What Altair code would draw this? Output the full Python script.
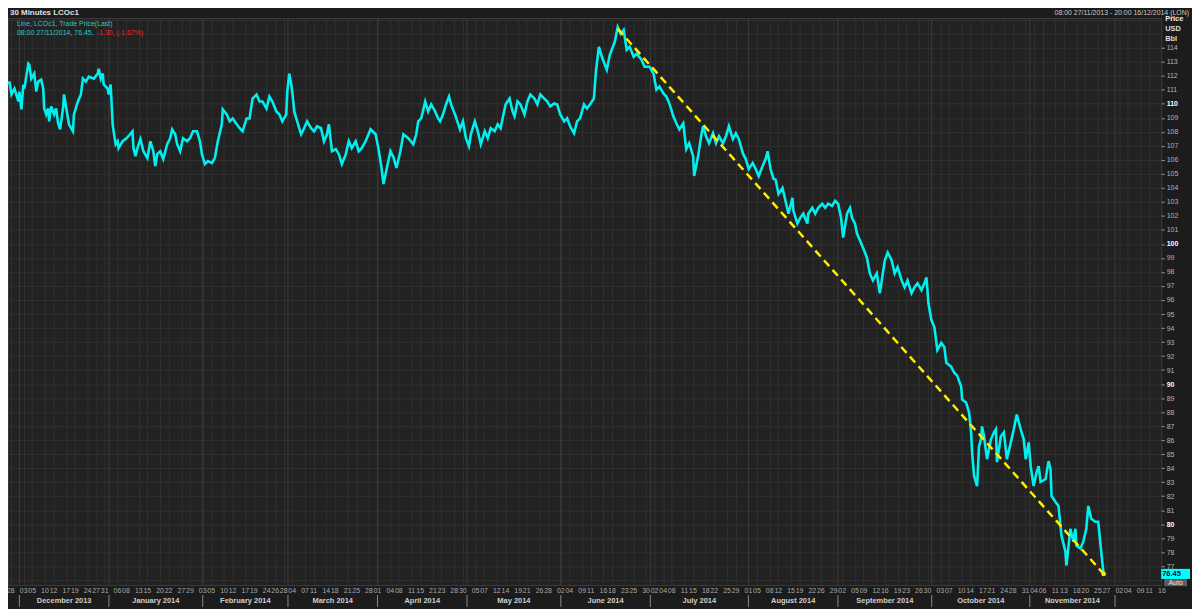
import altair as alt
import numpy as np
import pandas as pd

# ---------------- data (Brent LCOc1, 30-minute trade price) ----------------
# x = trading days elapsed since 27/11/2013 00:00 (London, ICE calendar), y = USD/bbl
nov_dec_2013 = [(0.44,111.38),(0.67,111.59),(1.14,110.67),(1.84,111.09),(2.77,110.17),
  (3.00,110.88),(3.47,109.60),(3.93,111.38),(4.17,111.09),(5.10,112.87),(5.33,112.79),(5.79,111.80),
  (6.49,112.16),(6.96,110.88),(7.42,111.59),(8.12,111.73),(8.59,111.09),(8.82,109.67),(9.29,109.25),
  (9.75,109.67),(9.98,108.75),(10.45,109.82),(11.15,109.25),(11.61,109.67),(12.08,108.61),(12.54,108.18),
  (13.24,109.67),(13.47,110.67),(14.40,108.96),(14.64,108.54),(15.57,108.04),(15.80,109.25),(16.73,110.17),
  (17.43,110.67),(17.90,111.80),(18.59,111.59),(19.29,111.94),(20.46,111.80),(21.39,112.16),(21.62,112.51),
  (22.09,111.80),(22.55,112.16),(22.78,111.38),(23.71,111.09)]
jan_2014 = [(23.95,110.67),(24.41,111.38),(24.88,108.54),(25.11,108.04),(25.58,107.12),(26.04,107.33),(26.27,106.84),
  (27.20,107.33),(27.90,107.48),(28.60,107.69),(29.53,108.04),(29.76,106.84),(30.23,106.27),(30.70,106.84),
  (31.39,107.48),(32.09,106.62),(33.02,106.13),(33.72,107.33),(34.42,106.62),(34.88,105.56),(35.35,106.41),
  (36.05,106.62),(36.75,106.06),(37.68,107.12),(38.38,107.55),(38.84,108.18),(39.54,107.83),(40.01,107.12),
  (40.71,106.62),(41.40,107.55),(42.33,107.33),(43.03,107.55),(43.73,108.04),(44.66,108.04),(45.36,107.33)]
feb_2014 = [(45.82,106.41),(46.52,105.70),(47.22,105.91),(48.15,105.77),(48.85,106.13),(49.55,107.33),(50.48,108.54),
  (50.71,109.60),(51.64,109.25),(52.34,108.75),(53.04,108.96),(53.97,108.54),(54.67,108.26),(55.36,108.04),
  (56.29,108.96),(56.99,108.96),(57.69,110.38),(58.62,110.67),(59.32,110.17),(60.02,110.17),(60.95,109.67),
  (61.65,110.52),(62.35,110.17),(63.28,109.46),(63.98,109.25),(64.67,108.75)]
mar_2014 = [(65.60,109.25),(65.84,110.88),(66.30,112.16),(66.77,111.38),(67.00,110.88),(67.47,109.46),(68.16,108.75),
  (69.09,107.83),(69.79,108.26),(70.49,108.75),(71.42,108.26),(72.12,108.04),(72.82,108.40),(73.75,108.26),
  (74.45,107.33),(75.15,107.83),(75.61,108.54),(76.31,106.62),(77.24,106.77),(77.94,106.41),(78.64,105.70),
  (79.57,106.41),(80.27,107.33),(80.96,106.84),(81.89,107.33),(82.59,106.62),(83.29,106.84),(84.22,107.33),
  (85.38,108.18),(86.55,107.83)]
apr_2014 = [(87.25,106.77),(87.94,105.42),(88.41,104.28),(89.11,105.30),(90.04,106.62),(90.74,106.20),(91.44,105.42),
  (92.37,106.62),(93.07,107.83),(94.23,107.55),(95.39,107.12),(96.09,107.83),(96.56,108.75),(97.26,108.96),
  (98.19,110.17),(98.89,109.46),(99.59,109.96),(100.52,109.46),(101.22,108.96),(101.68,108.75),(102.38,109.25),
  (103.08,109.96),(103.78,110.52),(104.25,109.96),(105.18,109.25),(105.88,108.61),(106.34,108.18),(107.04,108.75)]
may_2014 = [(107.74,107.55),(108.44,106.98),(108.90,107.83),(109.83,108.75),(110.53,108.04),(111.23,107.12),
  (112.16,108.04),(112.86,107.55),(113.56,108.26),(114.49,108.04),(115.19,108.54),(115.88,108.26),(116.35,108.96),
  (117.05,109.96),(117.98,110.38),(118.68,109.46),(119.15,109.11),(119.84,110.17),(120.54,109.96),(121.47,109.25),
  (122.17,110.17),(122.87,110.67),(123.80,110.38),(124.50,109.96),(125.20,110.67),(126.13,110.38),(126.83,110.17),
  (127.52,109.82),(128.45,110.03),(129.15,109.96)]
jun_2014 = [(129.85,109.25),(130.78,108.75),(131.48,108.96),(132.18,108.40),(133.11,107.90),(133.81,108.75),
  (134.51,108.96),(135.44,109.96),(136.14,109.67),(136.83,109.96),(137.76,110.38),(138.23,112.30),(138.93,114.07),
  (139.63,113.36),(140.33,112.79),(140.79,112.44),(141.49,113.50),(141.96,113.86),(142.66,114.43),(143.35,115.49),
  (144.05,115.00),(144.75,115.28),(145.45,113.86),(146.15,114.07),(147.08,113.36),(147.78,113.57),(148.94,113.15),
  (149.64,112.65)]
jul_2014 = [(150.80,112.65),(151.74,112.16),(152.43,111.02),(153.13,111.23),(154.06,110.74),(154.76,110.52),
  (155.46,110.03),(156.39,109.11),(157.09,108.61),(157.79,108.18),(158.72,108.61),(159.42,106.77),(160.11,107.19),
  (161.04,106.27),(161.28,104.85),(162.21,106.27),(162.91,107.69),(163.38,108.40),(164.07,107.69),(164.77,107.19),
  (165.70,107.90),(166.40,107.19),(167.10,107.69),(168.03,107.19),(168.73,107.69),(169.43,108.40),(170.36,107.48),
  (171.06,107.90),(171.76,107.48),(172.69,106.48)]
aug_2014 = [(173.38,106.06),(174.08,105.35),(175.01,105.77),(175.71,105.35),(176.41,104.85),(177.34,105.56),
  (178.04,106.06),(178.51,106.62),(179.20,105.35),(179.90,104.64),(180.37,104.60),(181.07,103.57),(182.00,104.00),
  (182.70,103.08),(183.40,102.16),(184.33,103.29),(184.56,102.37),(185.49,101.45),(186.19,101.87),(186.89,102.16),
  (187.82,101.45),(188.05,102.16),(188.98,102.58),(189.68,102.16),(190.38,102.58),(191.31,102.87),(192.01,102.58),
  (192.71,102.87),(193.64,102.72)]
sep_2014 = [(194.34,103.08),(195.04,102.87),(195.74,101.87),(196.21,100.45),(197.14,102.16),(197.84,102.58),
  (198.30,101.87),(199.00,101.45),(199.47,100.74),(200.17,100.24),(200.86,99.74),(201.79,99.04),(202.49,97.90),
  (203.19,97.40),(204.12,97.90),(204.82,96.48),(205.29,97.40),(205.99,98.82),(206.68,99.39),(207.61,98.82),
  (208.31,97.90),(209.01,98.33),(209.94,97.40),(210.64,96.91),(211.34,97.40),(212.27,96.48),(212.97,96.91),
  (213.67,97.19),(214.60,96.70),(215.29,97.19),(215.76,97.62),(216.23,95.77)]
oct_2014 = [(216.93,94.57),(217.62,94.07),(218.32,92.44),(219.25,92.94),(219.95,92.65),(220.42,91.52),(221.58,91.23),
  (222.28,90.81),(222.98,90.60),(223.91,89.82),(224.14,88.89),(225.07,88.68),(225.77,87.97),(226.24,86.55),
  (226.47,85.13),(226.94,83.43),(227.64,82.72),(228.10,85.56),(228.57,86.06),(228.80,86.98),(229.27,86.27),
  (229.97,84.64),(230.90,86.06),(231.60,86.55),(232.06,86.77),(232.30,84.43),(233.23,86.27),(233.93,86.55),
  (234.63,84.64),(235.56,85.84),(236.25,86.77),(236.95,87.83),(237.88,86.77),(238.58,86.06),(239.05,84.64)]
nov_2014 = [(239.75,85.84),(240.21,84.14),(240.91,82.72),(241.61,83.72),(242.08,84.14),(242.54,83.01),(243.71,83.22),
  (244.41,84.50),(244.87,83.93),(245.11,82.01),(246.04,81.59),(246.74,81.30),(247.20,79.89),(247.44,79.18),
  (248.37,78.04),(248.60,77.05),(249.53,79.67),(250.23,78.75),(250.70,79.67),(250.93,78.47),(251.86,78.26),
  (252.56,78.75),(253.26,79.67),(253.73,81.30),(254.43,80.38),(255.36,80.17),(256.06,80.17),(256.52,78.75),
  (256.76,78.04),(257.10,77.05),(257.33,76.45)]

# dashed trend line from the June peak to the last price
trend_t = [143.35, 257.33]
trend_p = [115.35, 76.45]
last_price = 76.45

# calendar
holidays = ["2013-12-25", "2014-01-01", "2014-04-18"]
label_dates = [
    "2013-11-28", "2013-12-03", "2013-12-05", "2013-12-10", "2013-12-12", "2013-12-17", "2013-12-19",
    "2013-12-24", "2013-12-27", "2013-12-31",
    "2014-01-06", "2014-01-08", "2014-01-13", "2014-01-15", "2014-01-20", "2014-01-22", "2014-01-27", "2014-01-29",
    "2014-02-03", "2014-02-05", "2014-02-10", "2014-02-12", "2014-02-17", "2014-02-19", "2014-02-24", "2014-02-26",
    "2014-02-28",
    "2014-03-04", "2014-03-07", "2014-03-11", "2014-03-14", "2014-03-18", "2014-03-21", "2014-03-25", "2014-03-28",
    "2014-04-01", "2014-04-04", "2014-04-08", "2014-04-11", "2014-04-15", "2014-04-21", "2014-04-23", "2014-04-28",
    "2014-04-30",
    "2014-05-05", "2014-05-07", "2014-05-12", "2014-05-14", "2014-05-19", "2014-05-21", "2014-05-26", "2014-05-28",
    "2014-06-02", "2014-06-04", "2014-06-09", "2014-06-11", "2014-06-16", "2014-06-18", "2014-06-23", "2014-06-25",
    "2014-06-30",
    "2014-07-02", "2014-07-04", "2014-07-08", "2014-07-11", "2014-07-15", "2014-07-18", "2014-07-22", "2014-07-25",
    "2014-07-29",
    "2014-08-01", "2014-08-05", "2014-08-08", "2014-08-12", "2014-08-15", "2014-08-19", "2014-08-22", "2014-08-26",
    "2014-08-29",
    "2014-09-02", "2014-09-05", "2014-09-09", "2014-09-12", "2014-09-16", "2014-09-19", "2014-09-23", "2014-09-26",
    "2014-09-30",
    "2014-10-03", "2014-10-07", "2014-10-10", "2014-10-14", "2014-10-17", "2014-10-21", "2014-10-24", "2014-10-28",
    "2014-10-31",
    "2014-11-04", "2014-11-06", "2014-11-11", "2014-11-13", "2014-11-18", "2014-11-20", "2014-11-25", "2014-11-27",
    "2014-12-02", "2014-12-04", "2014-12-09", "2014-12-11", "2014-12-16"]
month_starts = ["2013-12-01", "2014-01-01", "2014-02-01", "2014-03-01", "2014-04-01", "2014-05-01",
                "2014-06-01", "2014-07-01", "2014-08-01", "2014-09-01", "2014-10-01", "2014-11-01", "2014-12-01"]
month_names = ["December 2013", "January 2014", "February 2014", "March 2014", "April 2014", "May 2014",
               "June 2014", "July 2014", "August 2014", "September 2014", "October 2014", "November 2014"]

# ---------------- build ----------------
hol = np.array(holidays, dtype="datetime64[D]")
base = np.datetime64("2013-11-27")


def tpos(d):
    return float(np.busday_count(base, np.datetime64(d), holidays=hol))


segments = (nov_dec_2013 + jan_2014 + feb_2014 + mar_2014 + apr_2014 + may_2014 + jun_2014
            + jul_2014 + aug_2014 + sep_2014 + oct_2014 + nov_2014)
df = pd.DataFrame(segments, columns=["t", "p"])
trend_df = pd.DataFrame({"t": trend_t, "p": trend_p})
end_df = trend_df.tail(1)

label_pos = [tpos(d) for d in label_dates]
ticks_df = pd.DataFrame({"t": label_pos, "lab": [d[-2:] for d in label_dates]})
bounds = [tpos(d) for d in month_starts]
months_df = pd.DataFrame({"t": [(a + b) / 2 for a, b in zip(bounds[:-1], bounds[1:])], "name": month_names})
bounds_df = pd.DataFrame({"t": bounds})
one = pd.DataFrame({"k": [0]})
last_df = pd.DataFrame({"p": [last_price]})

W, H = 1161, 571
FONT = "Liberation Sans"
xs = alt.Scale(domain=[0.33, 270.83], nice=False, zero=False)
ys = alt.Scale(domain=[75.65, 116.13], nice=False, zero=False)

x_axis = alt.Axis(values=label_pos, labels=False, ticks=False, domain=False, grid=True,
                  gridColor="#303030", gridWidth=1, title=None)
hide = "datum.value > 114 || datum.value < 77"
ten = "datum.value % 10 === 0"
y_axis = alt.Axis(
    orient="right", values=list(range(76, 117)), title=None, domain=False,
    grid=True, gridColor="#303030", gridWidth=1,
    ticks=True, tickSize=3, tickColor="#9a9a9a",
    tickOpacity={"condition": {"test": hide, "value": 0}, "value": 1},
    labelExpr=f"{hide} ? '' : datum.label",
    labelFont=FONT, labelFontSize=7, labelPadding=2, labelOverlap=False,
    labelColor={"condition": {"test": ten, "value": "#ffffff"}, "value": "#b4b4b4"},
    labelFontWeight={"condition": {"test": ten, "value": "bold"}, "value": "normal"},
)
X = alt.X("t:Q", scale=xs, axis=x_axis)
Y = alt.Y("p:Q", scale=ys, axis=y_axis)

# first layer carries both axes (invisible marks)
axes_layer = alt.Chart(df).mark_point(opacity=0, size=1).encode(x=X, y=Y)

month_grid = alt.Chart(bounds_df).mark_rule(color="#3b3b3b", strokeWidth=1).encode(
    x=X, y=alt.value(0), y2=alt.value(H))

price_line = alt.Chart(df).mark_line(color="#00f0f0", strokeWidth=2.6).encode(x=X, y=Y)

trend = alt.Chart(trend_df).mark_line(color="#ffee00", strokeWidth=2.5, strokeDash=[8, 5]).encode(x=X, y=Y)
end_dot = alt.Chart(end_df).mark_circle(color="#ffee00", size=22, opacity=1).encode(x=X, y=Y)

day_labels = alt.Chart(ticks_df).mark_text(font=FONT, fontSize=7, color="#a8a8a8", baseline="middle").encode(
    x=X, y=alt.value(H + 6), text="lab:N")
month_labels = alt.Chart(months_df).mark_text(font=FONT, fontSize=7.5, fontWeight="bold", color="#cfcfcf",
                                              baseline="middle").encode(
    x=X, y=alt.value(H + 16), text="name:N")
month_seps = alt.Chart(bounds_df).mark_rule(color="#8a8a8a", strokeWidth=1).encode(
    x=X, y=alt.value(H + 10), y2=alt.value(H + 22))


def label(txt, x, y, color, size=7, weight="normal", align="left"):
    return alt.Chart(one).mark_text(text=txt, font=FONT, fontSize=size, fontWeight=weight, color=color,
                                    align=align, baseline="middle").encode(x=alt.value(x), y=alt.value(y))


title = label("30 Minutes LCOc1", 2, -5, "#e0e0e0", 8, "bold")
rng = label("08:00 27/11/2013 - 20:00 16/12/2014 (LON)", W + 28, -5, "#c8c8c8", 7, align="right")
leg1 = label("Line, LCOc1, Trade Price(Last)", 9, 6, "#2cc6c6", 7)
leg2 = label("08:00 27/11/2014, 76.45, ", 9, 15, "#2cc6c6", 7)
leg3 = label("-1.30, (-1.67%)", 89.5, 15, "#e8262e", 7)
unit1 = label("Price", W + 4, 1, "#f0f0f0", 7.5, "bold")
unit2 = label("USD", W + 4, 11, "#dcdcdc", 7.5, "bold")
unit3 = label("Bbl", W + 4, 21, "#dcdcdc", 7.5, "bold")

last_box = alt.Chart(last_df).transform_calculate(top="datum.p + 0.36", bot="datum.p - 0.36").mark_rect(
    color="#00ffff").encode(x=alt.value(W), x2=alt.value(W + 29),
                            y=alt.Y("top:Q", scale=ys, axis=y_axis), y2="bot:Q")
last_text = alt.Chart(last_df).mark_text(align="left", baseline="middle", font=FONT, fontSize=7.5,
                                         fontWeight="bold", color="#0b0b33").encode(
    x=alt.value(W + 1), y=Y, text=alt.Text("p:Q", format=".2f"))
auto_box = alt.Chart(one).mark_rect(color="#5e5e5e").encode(
    x=alt.value(W + 3), x2=alt.value(W + 26), y=alt.value(H - 6), y2=alt.value(H + 1))
auto_text = label("Auto", W + 14.5, H - 2.5, "#e6e6e6", 7, align="center")

chart = alt.layer(
    axes_layer, month_grid, price_line, trend, end_dot, day_labels, month_labels, month_seps,
    title, rng, leg1, leg2, leg3, unit1, unit2, unit3, last_box, last_text, auto_box, auto_text,
).properties(
    width=W, height=H,
    padding={"left": 0, "top": 8, "right": 31, "bottom": 22},
    autosize=alt.AutoSizeParams(type="none"),
    background="#1c1c1c",
).configure_view(fill="#222222", stroke="#3c3c3c", strokeWidth=1)

chart.save("out.html", embed_options={"renderer": "svg", "actions": False})
